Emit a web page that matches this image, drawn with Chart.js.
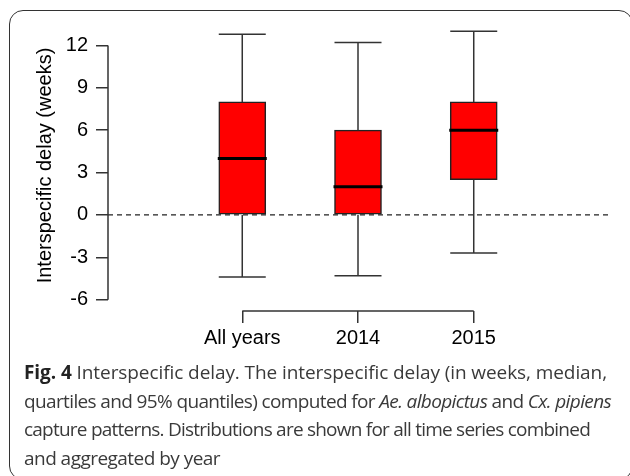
<!DOCTYPE html>
<html>
<head>
<meta charset="utf-8">
<script src="https://cdn.jsdelivr.net/npm/chart.js@4"></script>
<style>
  html, body { margin: 0; padding: 0; background: #fff; }
  body { width: 630px; height: 476px; position: relative; overflow: hidden; }
  #frame { position: absolute; left: 9px; top: 10px; width: 624px; height: 470px; border: 1.5px solid #333; border-radius: 14px; box-sizing: border-box; }
  #chart { position: absolute; left: 0; top: 0; }
  #caption { position: absolute; left: 24px; top: 358px; white-space: nowrap; font-family: "Open Sans", sans-serif; font-size: 19px; line-height: 28.6px; color: #3a3a3a; }
  #caption span { display: inline-block; }
  #caption b { color: #222; }
</style>
</head>
<body>
<div id="frame"></div>
<canvas id="chart" width="630" height="360"></canvas>
<div id="caption">
  <span data-w="583"><b>Fig. 4</b> Interspecific delay. The interspecific delay (in weeks, median,</span><br>
  <span data-w="587">quartiles and 95% quantiles) computed for <i>Ae. albopictus</i> and <i>Cx. pipiens</i></span><br>
  <span data-w="566">capture patterns. Distributions are shown for all time series combined</span><br>
  <span data-w="196">and aggregated by year</span>
</div>
<script>
// データ（箱ひげ図）
const categories = ["All years", "2014", "2015"];
const positions = [1, 2, 3];
const whiskerLow = [-4.4, -4.3, -2.7];
const q1 = [0, 0, 2.5];
const median = [4, 2, 6];
const q3 = [8, 6, 8];
const whiskerHigh = [12.8, 12.2, 13.0];
const yTicks = [-6, -3, 0, 3, 6, 9, 12];

const axisFont = { family: "'Liberation Sans', Arial, sans-serif", size: 20 };
const lineColor = "#333";

// キャプションの行幅を元図に合わせる
document.querySelectorAll("#caption span").forEach(el => {
  const target = +el.dataset.w;
  const n = el.textContent.length;
  const w = el.getBoundingClientRect().width;
  el.style.letterSpacing = ((target - w) / n) + "px";
});

// 0 の破線、ひげ、中央値、R 風の軸
const boxPlugin = {
  id: "boxExtras",
  beforeDatasetsDraw(chart) {
    const { ctx, chartArea, scales: { y } } = chart;
    const y0 = y.getPixelForValue(0);
    ctx.save();
    ctx.strokeStyle = "#222";
    ctx.lineWidth = 1.3;
    ctx.setLineDash([5, 4]);
    ctx.beginPath();
    ctx.moveTo(chartArea.left, y0);
    ctx.lineTo(chartArea.right, y0);
    ctx.stroke();
    ctx.restore();
  },
  afterDatasetsDraw(chart) {
    const { ctx, scales: { x, y } } = chart;
    const bars = chart.getDatasetMeta(0).data;
    ctx.save();
    positions.forEach((p, i) => {
      const cx = x.getPixelForValue(p);
      const half = bars[i].width / 2;
      ctx.strokeStyle = lineColor;
      ctx.lineWidth = 1.5;
      ctx.beginPath();
      ctx.moveTo(cx, y.getPixelForValue(q3[i]));
      ctx.lineTo(cx, y.getPixelForValue(whiskerHigh[i]));
      ctx.moveTo(cx, y.getPixelForValue(q1[i]));
      ctx.lineTo(cx, y.getPixelForValue(whiskerLow[i]));
      ctx.moveTo(cx - half, y.getPixelForValue(whiskerHigh[i]));
      ctx.lineTo(cx + half, y.getPixelForValue(whiskerHigh[i]));
      ctx.moveTo(cx - half, y.getPixelForValue(whiskerLow[i]));
      ctx.lineTo(cx + half, y.getPixelForValue(whiskerLow[i]));
      ctx.stroke();
      ctx.strokeStyle = "#000";
      ctx.lineWidth = 3;
      ctx.beginPath();
      ctx.moveTo(cx - half - 1, y.getPixelForValue(median[i]));
      ctx.lineTo(cx + half + 1, y.getPixelForValue(median[i]));
      ctx.stroke();
    });
    ctx.restore();
  },
  afterDraw(chart) {
    const { ctx, chartArea, scales: { x, y } } = chart;
    ctx.save();
    ctx.strokeStyle = lineColor;
    ctx.lineWidth = 1.5;
    ctx.beginPath();
    ctx.moveTo(chartArea.left, y.getPixelForValue(yTicks[0]));
    ctx.lineTo(chartArea.left, y.getPixelForValue(yTicks[yTicks.length - 1]));
    ctx.moveTo(x.getPixelForValue(positions[0]), chartArea.bottom);
    ctx.lineTo(x.getPixelForValue(positions[positions.length - 1]), chartArea.bottom);
    ctx.stroke();
    ctx.restore();
  }
};

new Chart(document.getElementById("chart"), {
  type: "bar",
  data: {
    datasets: [{
      data: positions.map((p, i) => ({ x: p, y: [q1[i], q3[i]] })),
      backgroundColor: "#ff0000",
      borderColor: "#222",
      borderWidth: 1.5,
      borderSkipped: false,
      barThickness: 47
    }]
  },
  options: {
    responsive: false,
    animation: false,
    layout: { padding: { top: 18, right: 22, left: 0, bottom: 0 } },
    plugins: { legend: { display: false }, tooltip: { enabled: false } },
    scales: {
      x: {
        type: "linear",
        offset: false,
        min: -0.16,
        max: 4.16,
        afterBuildTicks: s => { s.ticks = positions.map(v => ({ value: v })); },
        afterFit: s => { s.height = 49; },
        grid: { offset: false, drawOnChartArea: false, tickLength: 12, color: lineColor, lineWidth: 1.5 },
        border: { display: false },
        ticks: {
          autoSkip: false, maxRotation: 0, padding: 3,
          color: "#000", font: axisFont,
          callback: (v, i) => categories[i]
        }
      },
      y: {
        min: -6.8,
        max: 13.8,
        afterBuildTicks: s => { s.ticks = yTicks.map(v => ({ value: v })); },
        afterFit: s => { s.width = 108; },
        grid: { drawOnChartArea: false, tickLength: 12, color: lineColor, lineWidth: 1.5 },
        border: { display: false },
        ticks: { padding: 8, color: "#000", font: axisFont },
        title: {
          display: true,
          text: "Interspecific delay (weeks)",
          color: "#000",
          font: axisFont,
          padding: { top: 33, bottom: 0 }
        }
      }
    }
  },
  plugins: [boxPlugin]
});
</script>
</body>
</html>
